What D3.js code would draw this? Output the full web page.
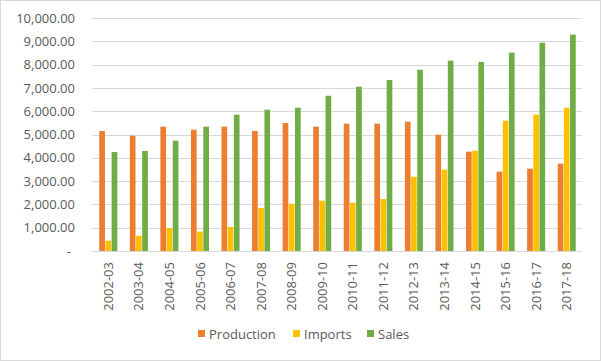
<!DOCTYPE html>
<html><head><meta charset="utf-8">
<script src="https://cdn.jsdelivr.net/npm/d3@7"></script>
<style>body{margin:0;background:#fff}svg{display:block}</style>
</head><body><svg id="c" width="601" height="361"></svg>
<script>
const categories = ["2002-03","2003-04","2004-05","2005-06","2006-07","2007-08","2008-09","2009-10","2010-11","2011-12","2012-13","2013-14","2014-15","2015-16","2016-17","2017-18"];
const seriesNames = ["Production","Imports","Sales"];
const production = [5150,4950,5336,5207,5336,5150,5494,5336,5465,5465,5550,4993,4263,3405,3534,3749];
const imports = [442,657,987,830,1030,1845,2030,2160,2073,2232,3190,3490,4306,5594,5852,6152];
const sales = [4249,4292,4734,5336,5850,6065,6150,6665,7052,7339,7780,8170,8112,8512,8943,9288];
const yTicks = [0,1000,2000,3000,4000,5000,6000,7000,8000,9000,10000];
const colors = ["#ED7D31","#FFC000","#70AD47"];

(function(){
const seriesValues = [production, imports, sales];
const svg = d3.select("#c");
const font = "'Open Sans', sans-serif";
const textColor = "#595959";

svg.append("rect").attr("x",0.5).attr("y",0.5).attr("width",600).attr("height",360)
  .attr("fill","#fff").attr("stroke","#d9d9d9");

const pLeft = 93, pRight = 582, pTop = 18, pBottom = 251;
const x = d3.scaleBand().domain(categories).range([pLeft,pRight]).paddingInner(0.41).paddingOuter(0.205);
const xs = d3.scaleBand().domain(seriesNames).range([0,x.bandwidth()]).paddingInner(0.08);
const y = d3.scaleLinear().domain([0,10000]).range([pBottom,pTop]);

svg.append("g").selectAll("line").data(yTicks.filter(d=>d>0)).join("line")
  .attr("x1",pLeft-1).attr("x2",pRight).attr("y1",d=>Math.round(y(d))+0.5).attr("y2",d=>Math.round(y(d))+0.5)
  .attr("stroke","#d9d9d9").attr("stroke-width",1);

const yAxis = d3.axisLeft(y).tickValues(yTicks).tickSize(0).tickPadding(0)
  .tickFormat(d => d===0 ? "-" : d3.format(",.2f")(d));
const gy = svg.append("g").attr("transform",`translate(75,0)`).call(yAxis);
gy.select(".domain").remove();
gy.selectAll("text").attr("font-family",font).attr("font-size",13).attr("fill",textColor)
  .attr("x", d => d===0 ? -4 : 0);

const groups = svg.append("g").selectAll("g").data(categories).join("g")
  .attr("transform",d=>`translate(${x(d)},0)`);
groups.selectAll("rect").data((c,i)=>seriesNames.map((s,j)=>({s,v:seriesValues[j][i],j}))).join("rect")
  .attr("x",d=>xs(d.s)).attr("width",xs.bandwidth())
  .attr("y",d=>y(d.v)).attr("height",d=>pBottom-y(d.v))
  .attr("fill",d=>colors[d.j]);

svg.append("line").attr("x1",pLeft-1).attr("x2",pRight).attr("y1",pBottom+0.5).attr("y2",pBottom+0.5)
  .attr("stroke","#d9d9d9");

const xAxis = d3.axisBottom(x).tickSize(0).tickPadding(0);
const gx = svg.append("g").attr("transform",`translate(0,${pBottom})`).call(xAxis);
gx.select(".domain").remove();
gx.selectAll("text").attr("font-family",font).attr("font-size",13).attr("fill",textColor)
  .attr("transform","rotate(-90)").attr("text-anchor","end").attr("x",-11).attr("y",0).attr("dy","0.35em");

const legendItems = [{n:"Production",x:198},{n:"Imports",x:293},{n:"Sales",x:367}];
const lg = svg.append("g");
legendItems.forEach((it,i)=>{
  lg.append("rect").attr("x",it.x).attr("y",330).attr("width",7).attr("height",7).attr("fill",colors[i]);
  lg.append("text").attr("x",it.x+11).attr("y",334).attr("dy","0.35em").attr("font-family",font)
    .attr("font-size",13).attr("fill",textColor).text(it.n);
});
})();
</script></body></html>
